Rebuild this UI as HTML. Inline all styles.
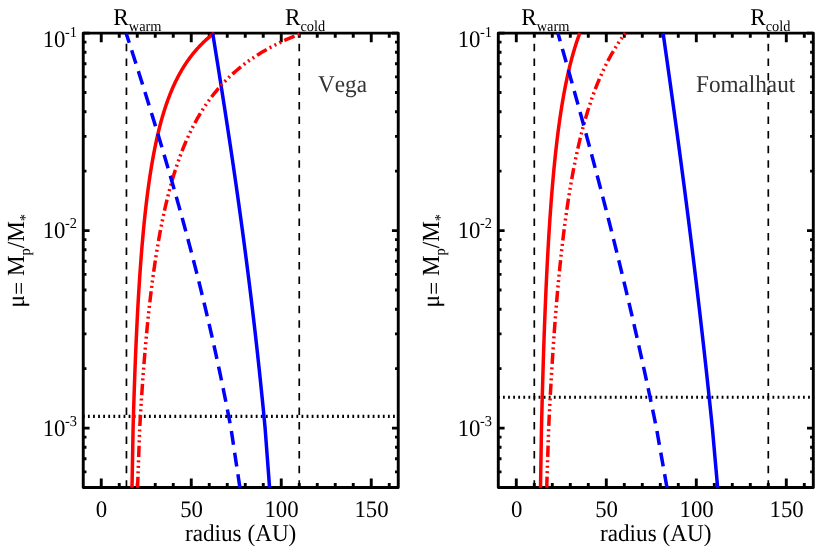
<!DOCTYPE html>
<html><head><meta charset="utf-8"><title>chart</title>
<style>
html,body{margin:0;padding:0;background:#fff;}
svg{display:block;will-change:transform}
text{font-family:"Liberation Serif",serif;font-size:23.2px;fill:#000;font-kerning:none;text-rendering:geometricPrecision}
.s{font-size:14.4px}
</style></head>
<body>
<svg width="830" height="554" viewBox="0 0 830 554">
<rect width="830" height="554" fill="#fff"/>
<path d="M101.25,487.55v-9.10M101.25,33.10v9.10M119.25,487.55v-4.60M119.25,33.10v4.60M137.25,487.55v-4.60M137.25,33.10v4.60M155.25,487.55v-4.60M155.25,33.10v4.60M173.25,487.55v-4.60M173.25,33.10v4.60M191.25,487.55v-9.10M191.25,33.10v9.10M209.25,487.55v-4.60M209.25,33.10v4.60M227.25,487.55v-4.60M227.25,33.10v4.60M245.25,487.55v-4.60M245.25,33.10v4.60M263.25,487.55v-4.60M263.25,33.10v4.60M281.25,487.55v-9.10M281.25,33.10v9.10M299.25,487.55v-4.60M299.25,33.10v4.60M317.25,487.55v-4.60M317.25,33.10v4.60M335.25,487.55v-4.60M335.25,33.10v4.60M353.25,487.55v-4.60M353.25,33.10v4.60M371.25,487.55v-9.10M371.25,33.10v9.10M389.25,487.55v-4.60M389.25,33.10v4.60M83.25,33.10h6.30M398.25,33.10h-6.30M83.25,230.60h6.30M398.25,230.60h-6.30M83.25,171.15h3.20M398.25,171.15h-3.20M83.25,136.37h3.20M398.25,136.37h-3.20M83.25,111.69h3.20M398.25,111.69h-3.20M83.25,92.55h3.20M398.25,92.55h-3.20M83.25,76.92h3.20M398.25,76.92h-3.20M83.25,63.69h3.20M398.25,63.69h-3.20M83.25,52.24h3.20M398.25,52.24h-3.20M83.25,42.14h3.20M398.25,42.14h-3.20M83.25,428.10h6.30M398.25,428.10h-6.30M83.25,368.65h3.20M398.25,368.65h-3.20M83.25,333.87h3.20M398.25,333.87h-3.20M83.25,309.19h3.20M398.25,309.19h-3.20M83.25,290.05h3.20M398.25,290.05h-3.20M83.25,274.42h3.20M398.25,274.42h-3.20M83.25,261.19h3.20M398.25,261.19h-3.20M83.25,249.74h3.20M398.25,249.74h-3.20M83.25,239.64h3.20M398.25,239.64h-3.20M83.25,487.55h3.20M398.25,487.55h-3.20M83.25,471.92h3.20M398.25,471.92h-3.20M83.25,458.69h3.20M398.25,458.69h-3.20M83.25,447.24h3.20M398.25,447.24h-3.20M83.25,437.14h3.20M398.25,437.14h-3.20" stroke="#000" stroke-width="2.9" fill="none"/>
<rect x="83.25" y="33.10" width="315.00" height="454.45" fill="none" stroke="#000" stroke-width="2.9" stroke-linejoin="round"/>
<clipPath id="cVega"><rect x="83.25" y="31.70" width="315.00" height="456.05"/></clipPath>
<g clip-path="url(#cVega)" fill="none">
<line x1="126.45" y1="33.10" x2="126.45" y2="487.55" stroke="#000" stroke-width="1.7" stroke-dasharray="7.5 7.045" stroke-dashoffset="3.8"/>
<line x1="299.25" y1="33.10" x2="299.25" y2="487.55" stroke="#000" stroke-width="1.7" stroke-dasharray="7.5 7.045" stroke-dashoffset="3.8"/>
<line x1="83.25" y1="416.45" x2="398.25" y2="416.45" stroke="#000" stroke-width="3.2" stroke-dasharray="1.8 3.2845" stroke-dashoffset="-4.7"/>
<path d="M214.21,33.10 L212.52,34.42 L210.88,35.73 L209.30,37.05 L207.76,38.37 L206.28,39.68 L204.84,41.00 L203.45,42.32 L202.10,43.63 L200.80,44.95 L199.53,46.27 L198.30,47.58 L197.10,48.90 L195.94,50.22 L194.81,51.53 L193.71,52.85 L192.64,54.17 L191.61,55.48 L190.59,56.80 L189.61,58.12 L188.65,59.43 L187.72,60.75 L186.81,62.07 L185.92,63.38 L185.05,64.70 L184.21,66.02 L183.39,67.33 L182.58,68.65 L181.80,69.97 L181.03,71.28 L180.28,72.60 L179.55,73.92 L178.83,75.23 L178.13,76.55 L177.45,77.87 L176.78,79.18 L176.13,80.50 L175.49,81.82 L174.86,83.13 L174.25,84.45 L173.64,85.77 L173.06,87.08 L172.48,88.40 L171.91,89.72 L171.36,91.03 L170.82,92.35 L170.29,93.67 L169.77,94.98 L169.25,96.30 L168.75,97.62 L168.26,98.93 L167.78,100.25 L167.30,101.57 L166.84,102.88 L166.38,104.20 L165.93,105.52 L165.49,106.83 L165.06,108.15 L164.63,109.47 L164.22,110.78 L163.81,112.10 L163.40,113.42 L163.01,114.73 L162.62,116.05 L162.23,117.37 L161.86,118.68 L161.49,120.00 L161.12,121.32 L160.76,122.63 L160.41,123.95 L160.06,125.27 L159.72,126.58 L159.39,127.90 L159.06,129.22 L158.73,130.53 L158.41,131.85 L158.10,133.17 L157.78,134.48 L157.48,135.80 L157.18,137.12 L156.88,138.43 L156.59,139.75 L156.30,141.07 L156.02,142.38 L155.74,143.70 L155.46,145.02 L155.19,146.33 L154.92,147.65 L154.66,148.97 L154.40,150.28 L154.14,151.60 L153.89,152.92 L153.64,154.23 L153.39,155.55 L153.15,156.87 L152.91,158.18 L152.67,159.50 L152.44,160.82 L152.21,162.13 L151.98,163.45 L151.76,164.77 L151.54,166.08 L151.32,167.40 L151.10,168.72 L150.89,170.03 L150.68,171.35 L150.47,172.67 L150.27,173.98 L150.07,175.30 L149.87,176.62 L149.67,177.93 L149.48,179.25 L149.29,180.57 L149.10,181.88 L148.91,183.20 L148.72,184.52 L148.54,185.83 L148.36,187.15 L148.18,188.47 L148.00,189.78 L147.83,191.10 L147.66,192.42 L147.49,193.73 L147.32,195.05 L147.15,196.37 L146.99,197.68 L146.83,199.00 L146.66,200.32 L146.51,201.63 L146.35,202.95 L146.19,204.27 L146.04,205.58 L145.89,206.90 L145.74,208.22 L145.59,209.53 L145.44,210.85 L145.30,212.17 L145.15,213.48 L145.01,214.80 L144.87,216.12 L144.73,217.43 L144.59,218.75 L144.46,220.07 L144.32,221.38 L144.19,222.70 L144.06,224.02 L143.93,225.33 L143.80,226.65 L143.67,227.97 L143.54,229.28 L143.42,230.60 L143.30,231.92 L143.17,233.23 L143.05,234.55 L142.93,235.87 L142.81,237.18 L142.69,238.50 L142.58,239.82 L142.46,241.13 L142.35,242.45 L142.23,243.77 L142.12,245.08 L142.01,246.40 L141.90,247.72 L141.79,249.03 L141.69,250.35 L141.58,251.67 L141.47,252.98 L141.37,254.30 L141.26,255.62 L141.16,256.93 L141.06,258.25 L140.96,259.57 L140.86,260.88 L140.76,262.20 L140.66,263.52 L140.57,264.83 L140.47,266.15 L140.37,267.47 L140.28,268.78 L140.19,270.10 L140.09,271.42 L140.00,272.73 L139.91,274.05 L139.82,275.37 L139.73,276.68 L139.64,278.00 L139.56,279.32 L139.47,280.63 L139.38,281.95 L139.30,283.27 L139.21,284.58 L139.13,285.90 L139.04,287.22 L138.96,288.53 L138.88,289.85 L138.80,291.17 L138.72,292.48 L138.64,293.80 L138.56,295.12 L138.48,296.43 L138.40,297.75 L138.33,299.07 L138.25,300.38 L138.18,301.70 L138.10,303.02 L138.03,304.33 L137.95,305.65 L137.88,306.97 L137.81,308.28 L137.73,309.60 L137.66,310.92 L137.59,312.23 L137.52,313.55 L137.45,314.87 L137.38,316.18 L137.32,317.50 L137.25,318.82 L137.18,320.13 L137.11,321.45 L137.05,322.77 L136.98,324.08 L136.92,325.40 L136.85,326.72 L136.79,328.03 L136.72,329.35 L136.66,330.67 L136.60,331.98 L136.54,333.30 L136.47,334.62 L136.41,335.93 L136.35,337.25 L136.29,338.57 L136.23,339.88 L136.17,341.20 L136.11,342.52 L136.05,343.83 L136.00,345.15 L135.94,346.47 L135.88,347.78 L135.83,349.10 L135.77,350.42 L135.71,351.73 L135.66,353.05 L135.60,354.37 L135.55,355.68 L135.49,357.00 L135.44,358.32 L135.39,359.63 L135.33,360.95 L135.28,362.27 L135.23,363.58 L135.18,364.90 L135.13,366.22 L135.08,367.53 L135.03,368.85 L134.98,370.17 L134.93,371.48 L134.88,372.80 L134.83,374.12 L134.78,375.43 L134.73,376.75 L134.68,378.07 L134.63,379.38 L134.59,380.70 L134.54,382.02 L134.49,383.33 L134.45,384.65 L134.40,385.97 L134.35,387.28 L134.31,388.60 L134.26,389.92 L134.22,391.23 L134.18,392.55 L134.13,393.87 L134.09,395.18 L134.04,396.50 L134.00,397.82 L133.96,399.13 L133.92,400.45 L133.87,401.77 L133.83,403.08 L133.79,404.40 L133.75,405.72 L133.71,407.03 L133.67,408.35 L133.63,409.67 L133.58,410.98 L133.54,412.30 L133.51,413.62 L133.47,414.93 L133.43,416.25 L133.39,417.57 L133.35,418.88 L133.31,420.20 L133.27,421.52 L133.23,422.83 L133.20,424.15 L133.16,425.47 L133.12,426.78 L133.09,428.10 L129.50,625.60" stroke="#ff0000" stroke-width="3.5"/>
<path d="M212.68,33.10 L212.89,34.42 L213.11,35.73 L213.32,37.05 L213.53,38.37 L213.75,39.68 L213.96,41.00 L214.17,42.32 L214.38,43.63 L214.60,44.95 L214.81,46.27 L215.02,47.58 L215.23,48.90 L215.45,50.22 L215.66,51.53 L215.87,52.85 L216.08,54.17 L216.29,55.48 L216.50,56.80 L216.72,58.12 L216.93,59.43 L217.14,60.75 L217.35,62.07 L217.56,63.38 L217.77,64.70 L217.98,66.02 L218.19,67.33 L218.40,68.65 L218.61,69.97 L218.82,71.28 L219.03,72.60 L219.24,73.92 L219.45,75.23 L219.65,76.55 L219.86,77.87 L220.07,79.18 L220.28,80.50 L220.49,81.82 L220.70,83.13 L220.90,84.45 L221.11,85.77 L221.32,87.08 L221.53,88.40 L221.73,89.72 L221.94,91.03 L222.15,92.35 L222.35,93.67 L222.56,94.98 L222.76,96.30 L222.97,97.62 L223.18,98.93 L223.38,100.25 L223.59,101.57 L223.79,102.88 L224.00,104.20 L224.20,105.52 L224.41,106.83 L224.61,108.15 L224.81,109.47 L225.02,110.78 L225.22,112.10 L225.42,113.42 L225.63,114.73 L225.83,116.05 L226.03,117.37 L226.23,118.68 L226.44,120.00 L226.64,121.32 L226.84,122.63 L227.04,123.95 L227.24,125.27 L227.44,126.58 L227.64,127.90 L227.84,129.22 L228.04,130.53 L228.24,131.85 L228.44,133.17 L228.64,134.48 L228.84,135.80 L229.04,137.12 L229.24,138.43 L229.44,139.75 L229.64,141.07 L229.83,142.38 L230.03,143.70 L230.23,145.02 L230.43,146.33 L230.62,147.65 L230.82,148.97 L231.01,150.28 L231.21,151.60 L231.41,152.92 L231.60,154.23 L231.80,155.55 L231.99,156.87 L232.19,158.18 L232.38,159.50 L232.58,160.82 L232.77,162.13 L232.96,163.45 L233.16,164.77 L233.35,166.08 L233.54,167.40 L233.73,168.72 L233.93,170.03 L234.12,171.35 L234.31,172.67 L234.50,173.98 L234.69,175.30 L234.88,176.62 L235.07,177.93 L235.26,179.25 L235.45,180.57 L235.64,181.88 L235.83,183.20 L236.02,184.52 L236.21,185.83 L236.40,187.15 L236.58,188.47 L236.77,189.78 L236.96,191.10 L237.15,192.42 L237.33,193.73 L237.52,195.05 L237.71,196.37 L237.89,197.68 L238.08,199.00 L238.26,200.32 L238.45,201.63 L238.63,202.95 L238.82,204.27 L239.00,205.58 L239.18,206.90 L239.37,208.22 L239.55,209.53 L239.73,210.85 L239.92,212.17 L240.10,213.48 L240.28,214.80 L240.46,216.12 L240.64,217.43 L240.82,218.75 L241.00,220.07 L241.18,221.38 L241.36,222.70 L241.54,224.02 L241.72,225.33 L241.90,226.65 L242.08,227.97 L242.26,229.28 L242.44,230.60 L242.61,231.92 L242.79,233.23 L242.97,234.55 L243.14,235.87 L243.32,237.18 L243.50,238.50 L243.67,239.82 L243.85,241.13 L244.02,242.45 L244.20,243.77 L244.37,245.08 L244.54,246.40 L244.72,247.72 L244.89,249.03 L245.06,250.35 L245.24,251.67 L245.41,252.98 L245.58,254.30 L245.75,255.62 L245.92,256.93 L246.09,258.25 L246.26,259.57 L246.43,260.88 L246.60,262.20 L246.77,263.52 L246.94,264.83 L247.11,266.15 L247.28,267.47 L247.45,268.78 L247.61,270.10 L247.78,271.42 L247.95,272.73 L248.11,274.05 L248.28,275.37 L248.45,276.68 L248.61,278.00 L248.78,279.32 L248.94,280.63 L249.11,281.95 L249.27,283.27 L249.43,284.58 L249.60,285.90 L249.76,287.22 L249.92,288.53 L250.09,289.85 L250.25,291.17 L250.41,292.48 L250.57,293.80 L250.73,295.12 L250.89,296.43 L251.05,297.75 L251.21,299.07 L251.37,300.38 L251.53,301.70 L251.69,303.02 L251.85,304.33 L252.00,305.65 L252.16,306.97 L252.32,308.28 L252.48,309.60 L252.63,310.92 L252.79,312.23 L252.94,313.55 L253.10,314.87 L253.25,316.18 L253.41,317.50 L253.56,318.82 L253.72,320.13 L253.87,321.45 L254.02,322.77 L254.18,324.08 L254.33,325.40 L254.48,326.72 L254.63,328.03 L254.79,329.35 L254.94,330.67 L255.09,331.98 L255.24,333.30 L255.39,334.62 L255.54,335.93 L255.69,337.25 L255.84,338.57 L255.98,339.88 L256.13,341.20 L256.28,342.52 L256.43,343.83 L256.57,345.15 L256.72,346.47 L256.87,347.78 L257.01,349.10 L257.16,350.42 L257.30,351.73 L257.45,353.05 L257.59,354.37 L257.74,355.68 L257.88,357.00 L258.02,358.32 L258.17,359.63 L258.31,360.95 L258.45,362.27 L258.59,363.58 L258.73,364.90 L258.88,366.22 L259.02,367.53 L259.16,368.85 L259.30,370.17 L259.44,371.48 L259.58,372.80 L259.72,374.12 L259.85,375.43 L259.99,376.75 L260.13,378.07 L260.27,379.38 L260.40,380.70 L260.54,382.02 L260.68,383.33 L260.81,384.65 L260.95,385.97 L261.08,387.28 L261.22,388.60 L261.35,389.92 L261.49,391.23 L261.62,392.55 L261.76,393.87 L261.89,395.18 L262.02,396.50 L262.15,397.82 L262.29,399.13 L262.42,400.45 L262.55,401.77 L262.68,403.08 L262.81,404.40 L262.94,405.72 L263.07,407.03 L263.20,408.35 L263.33,409.67 L263.46,410.98 L263.59,412.30 L263.71,413.62 L263.84,414.93 L263.97,416.25 L264.10,417.57 L264.22,418.88 L264.35,420.20 L264.48,421.52 L264.60,422.83 L264.73,424.15 L264.85,425.47 L264.98,426.78 L265.10,428.10 L279.96,625.60" stroke="#0000ff" stroke-width="3.5"/>
<path d="M301.98,33.10 L298.59,34.42 L295.31,35.73 L292.14,37.05 L289.08,38.37 L286.11,39.68 L283.24,41.00 L280.46,42.32 L277.76,43.63 L275.14,44.95 L272.60,46.27 L270.14,47.58 L267.75,48.90 L265.43,50.22 L263.17,51.53 L260.97,52.85 L258.84,54.17 L256.76,55.48 L254.74,56.80 L252.77,58.12 L250.85,59.43 L248.98,60.75 L247.16,62.07 L245.39,63.38 L243.66,64.70 L241.97,66.02 L240.32,67.33 L238.71,68.65 L237.14,69.97 L235.61,71.28 L234.11,72.60 L232.65,73.92 L231.22,75.23 L229.82,76.55 L228.45,77.87 L227.11,79.18 L225.80,80.50 L224.52,81.82 L223.27,83.13 L222.04,84.45 L220.84,85.77 L219.66,87.08 L218.51,88.40 L217.38,89.72 L216.27,91.03 L215.19,92.35 L214.12,93.67 L213.08,94.98 L212.06,96.30 L211.05,97.62 L210.07,98.93 L209.10,100.25 L208.15,101.57 L207.22,102.88 L206.31,104.20 L205.41,105.52 L204.53,106.83 L203.67,108.15 L202.82,109.47 L201.98,110.78 L201.16,112.10 L200.36,113.42 L199.56,114.73 L198.78,116.05 L198.02,117.37 L197.26,118.68 L196.52,120.00 L195.80,121.32 L195.08,122.63 L194.37,123.95 L193.68,125.27 L193.00,126.58 L192.32,127.90 L191.66,129.22 L191.01,130.53 L190.37,131.85 L189.74,133.17 L189.12,134.48 L188.51,135.80 L187.90,137.12 L187.31,138.43 L186.73,139.75 L186.15,141.07 L185.58,142.38 L185.02,143.70 L184.47,145.02 L183.93,146.33 L183.39,147.65 L182.86,148.97 L182.34,150.28 L181.83,151.60 L181.32,152.92 L180.82,154.23 L180.33,155.55 L179.85,156.87 L179.37,158.18 L178.89,159.50 L178.43,160.82 L177.97,162.13 L177.51,163.45 L177.07,164.77 L176.62,166.08 L176.19,167.40 L175.76,168.72 L175.33,170.03 L174.91,171.35 L174.50,172.67 L174.09,173.98 L173.69,175.30 L173.29,176.62 L172.89,177.93 L172.50,179.25 L172.12,180.57 L171.74,181.88 L171.37,183.20 L171.00,184.52 L170.63,185.83 L170.27,187.15 L169.91,188.47 L169.56,189.78 L169.21,191.10 L168.86,192.42 L168.52,193.73 L168.19,195.05 L167.86,196.37 L167.53,197.68 L167.20,199.00 L166.88,200.32 L166.56,201.63 L166.25,202.95 L165.94,204.27 L165.63,205.58 L165.33,206.90 L165.03,208.22 L164.73,209.53 L164.44,210.85 L164.14,212.17 L163.86,213.48 L163.57,214.80 L163.29,216.12 L163.01,217.43 L162.74,218.75 L162.47,220.07 L162.20,221.38 L161.93,222.70 L161.67,224.02 L161.41,225.33 L161.15,226.65 L160.89,227.97 L160.64,229.28 L160.39,230.60 L160.14,231.92 L159.89,233.23 L159.65,234.55 L159.41,235.87 L159.17,237.18 L158.94,238.50 L158.71,239.82 L158.47,241.13 L158.25,242.45 L158.02,243.77 L157.80,245.08 L157.57,246.40 L157.35,247.72 L157.14,249.03 L156.92,250.35 L156.71,251.67 L156.50,252.98 L156.29,254.30 L156.08,255.62 L155.87,256.93 L155.67,258.25 L155.47,259.57 L155.27,260.88 L155.07,262.20 L154.88,263.52 L154.68,264.83 L154.49,266.15 L154.30,267.47 L154.11,268.78 L153.92,270.10 L153.74,271.42 L153.55,272.73 L153.37,274.05 L153.19,275.37 L153.01,276.68 L152.84,278.00 L152.66,279.32 L152.49,280.63 L152.31,281.95 L152.14,283.27 L151.97,284.58 L151.81,285.90 L151.64,287.22 L151.47,288.53 L151.31,289.85 L151.15,291.17 L150.99,292.48 L150.83,293.80 L150.67,295.12 L150.51,296.43 L150.36,297.75 L150.21,299.07 L150.05,300.38 L149.90,301.70 L149.75,303.02 L149.60,304.33 L149.45,305.65 L149.31,306.97 L149.16,308.28 L149.02,309.60 L148.88,310.92 L148.73,312.23 L148.59,313.55 L148.46,314.87 L148.32,316.18 L148.18,317.50 L148.04,318.82 L147.91,320.13 L147.78,321.45 L147.64,322.77 L147.51,324.08 L147.38,325.40 L147.25,326.72 L147.12,328.03 L147.00,329.35 L146.87,330.67 L146.74,331.98 L146.62,333.30 L146.50,334.62 L146.37,335.93 L146.25,337.25 L146.13,338.57 L146.01,339.88 L145.89,341.20 L145.78,342.52 L145.66,343.83 L145.54,345.15 L145.43,346.47 L145.31,347.78 L145.20,349.10 L145.09,350.42 L144.98,351.73 L144.87,353.05 L144.76,354.37 L144.65,355.68 L144.54,357.00 L144.43,358.32 L144.33,359.63 L144.22,360.95 L144.11,362.27 L144.01,363.58 L143.91,364.90 L143.80,366.22 L143.70,367.53 L143.60,368.85 L143.50,370.17 L143.40,371.48 L143.30,372.80 L143.20,374.12 L143.11,375.43 L143.01,376.75 L142.91,378.07 L142.82,379.38 L142.72,380.70 L142.63,382.02 L142.54,383.33 L142.44,384.65 L142.35,385.97 L142.26,387.28 L142.17,388.60 L142.08,389.92 L141.99,391.23 L141.90,392.55 L141.81,393.87 L141.72,395.18 L141.64,396.50 L141.55,397.82 L141.47,399.13 L141.38,400.45 L141.30,401.77 L141.21,403.08 L141.13,404.40 L141.05,405.72 L140.96,407.03 L140.88,408.35 L140.80,409.67 L140.72,410.98 L140.64,412.30 L140.56,413.62 L140.48,414.93 L140.40,416.25 L140.32,417.57 L140.25,418.88 L140.17,420.20 L140.09,421.52 L140.02,422.83 L139.94,424.15 L139.87,425.47 L139.79,426.78 L139.72,428.10 L132.55,625.60" stroke="#ff0000" stroke-width="3.5" stroke-dasharray="11.2 3.45 2 3.45 2 3.45 2 3.45" stroke-dashoffset="23.00"/>
<path d="M126.11,33.10 L126.53,34.42 L126.96,35.73 L127.39,37.05 L127.81,38.37 L128.24,39.68 L128.67,41.00 L129.09,42.32 L129.52,43.63 L129.94,44.95 L130.37,46.27 L130.79,47.58 L131.22,48.90 L131.64,50.22 L132.07,51.53 L132.49,52.85 L132.91,54.17 L133.34,55.48 L133.76,56.80 L134.18,58.12 L134.60,59.43 L135.02,60.75 L135.45,62.07 L135.87,63.38 L136.29,64.70 L136.71,66.02 L137.13,67.33 L137.55,68.65 L137.97,69.97 L138.39,71.28 L138.80,72.60 L139.22,73.92 L139.64,75.23 L140.06,76.55 L140.48,77.87 L140.89,79.18 L141.31,80.50 L141.73,81.82 L142.14,83.13 L142.56,84.45 L142.97,85.77 L143.39,87.08 L143.80,88.40 L144.22,89.72 L144.63,91.03 L145.04,92.35 L145.46,93.67 L145.87,94.98 L146.28,96.30 L146.69,97.62 L147.10,98.93 L147.51,100.25 L147.92,101.57 L148.33,102.88 L148.74,104.20 L149.15,105.52 L149.56,106.83 L149.97,108.15 L150.38,109.47 L150.78,110.78 L151.19,112.10 L151.60,113.42 L152.00,114.73 L152.41,116.05 L152.81,117.37 L153.22,118.68 L153.62,120.00 L154.02,121.32 L154.43,122.63 L154.83,123.95 L155.23,125.27 L155.63,126.58 L156.04,127.90 L156.44,129.22 L156.84,130.53 L157.24,131.85 L157.64,133.17 L158.03,134.48 L158.43,135.80 L158.83,137.12 L159.23,138.43 L159.62,139.75 L160.02,141.07 L160.42,142.38 L160.81,143.70 L161.21,145.02 L161.60,146.33 L161.99,147.65 L162.39,148.97 L162.78,150.28 L163.17,151.60 L163.56,152.92 L163.95,154.23 L164.34,155.55 L164.73,156.87 L165.12,158.18 L165.51,159.50 L165.90,160.82 L166.29,162.13 L166.67,163.45 L167.06,164.77 L167.45,166.08 L167.83,167.40 L168.22,168.72 L168.60,170.03 L168.99,171.35 L169.37,172.67 L169.75,173.98 L170.13,175.30 L170.51,176.62 L170.90,177.93 L171.28,179.25 L171.65,180.57 L172.03,181.88 L172.41,183.20 L172.79,184.52 L173.17,185.83 L173.54,187.15 L173.92,188.47 L174.30,189.78 L174.67,191.10 L175.04,192.42 L175.42,193.73 L175.79,195.05 L176.16,196.37 L176.54,197.68 L176.91,199.00 L177.28,200.32 L177.65,201.63 L178.02,202.95 L178.38,204.27 L178.75,205.58 L179.12,206.90 L179.49,208.22 L179.85,209.53 L180.22,210.85 L180.58,212.17 L180.95,213.48 L181.31,214.80 L181.67,216.12 L182.04,217.43 L182.40,218.75 L182.76,220.07 L183.12,221.38 L183.48,222.70 L183.84,224.02 L184.20,225.33 L184.55,226.65 L184.91,227.97 L185.27,229.28 L185.62,230.60 L185.98,231.92 L186.33,233.23 L186.69,234.55 L187.04,235.87 L187.39,237.18 L187.74,238.50 L188.09,239.82 L188.44,241.13 L188.79,242.45 L189.14,243.77 L189.49,245.08 L189.84,246.40 L190.19,247.72 L190.53,249.03 L190.88,250.35 L191.22,251.67 L191.57,252.98 L191.91,254.30 L192.25,255.62 L192.59,256.93 L192.94,258.25 L193.28,259.57 L193.62,260.88 L193.96,262.20 L194.29,263.52 L194.63,264.83 L194.97,266.15 L195.31,267.47 L195.64,268.78 L195.98,270.10 L196.31,271.42 L196.65,272.73 L196.98,274.05 L197.31,275.37 L197.64,276.68 L197.97,278.00 L198.30,279.32 L198.63,280.63 L198.96,281.95 L199.29,283.27 L199.62,284.58 L199.94,285.90 L200.27,287.22 L200.60,288.53 L200.92,289.85 L201.24,291.17 L201.57,292.48 L201.89,293.80 L202.21,295.12 L202.53,296.43 L202.85,297.75 L203.17,299.07 L203.49,300.38 L203.81,301.70 L204.13,303.02 L204.44,304.33 L204.76,305.65 L205.07,306.97 L205.39,308.28 L205.70,309.60 L206.02,310.92 L206.33,312.23 L206.64,313.55 L206.95,314.87 L207.26,316.18 L207.57,317.50 L207.88,318.82 L208.19,320.13 L208.49,321.45 L208.80,322.77 L209.11,324.08 L209.41,325.40 L209.71,326.72 L210.02,328.03 L210.32,329.35 L210.62,330.67 L210.92,331.98 L211.22,333.30 L211.52,334.62 L211.82,335.93 L212.12,337.25 L212.42,338.57 L212.72,339.88 L213.01,341.20 L213.31,342.52 L213.60,343.83 L213.90,345.15 L214.19,346.47 L214.48,347.78 L214.78,349.10 L215.07,350.42 L215.36,351.73 L215.65,353.05 L215.94,354.37 L216.22,355.68 L216.51,357.00 L216.80,358.32 L217.08,359.63 L217.37,360.95 L217.65,362.27 L217.94,363.58 L218.22,364.90 L218.50,366.22 L218.78,367.53 L219.06,368.85 L219.34,370.17 L219.62,371.48 L219.90,372.80 L220.18,374.12 L220.46,375.43 L220.73,376.75 L221.01,378.07 L221.29,379.38 L221.56,380.70 L221.83,382.02 L222.11,383.33 L222.38,384.65 L222.65,385.97 L222.92,387.28 L223.19,388.60 L223.46,389.92 L223.73,391.23 L223.99,392.55 L224.26,393.87 L224.53,395.18 L224.79,396.50 L225.06,397.82 L225.32,399.13 L225.59,400.45 L225.85,401.77 L226.11,403.08 L226.37,404.40 L226.63,405.72 L226.89,407.03 L227.15,408.35 L227.41,409.67 L227.67,410.98 L227.92,412.30 L228.18,413.62 L228.43,414.93 L228.69,416.25 L228.94,417.57 L229.20,418.88 L229.45,420.20 L229.70,421.52 L229.95,422.83 L230.20,424.15 L230.45,425.47 L230.70,426.78 L230.95,428.10 L260.67,625.60" stroke="#0000ff" stroke-width="3.5" stroke-dasharray="14 7.88" stroke-dashoffset="3.80"/>
</g>
<text transform="translate(101.55,516.90) scale(1,1.045)" text-anchor="middle" style="font-size:22.8px">0</text>
<text transform="translate(191.55,516.90) scale(1,1.045)" text-anchor="middle" style="font-size:22.8px">50</text>
<text transform="translate(281.55,516.90) scale(1,1.045)" text-anchor="middle" style="font-size:22.8px">100</text>
<text transform="translate(371.55,516.90) scale(1,1.045)" text-anchor="middle" style="font-size:22.8px">150</text>
<text transform="translate(42.65,46.90) scale(1,1.045)" style="font-size:22.8px">10<tspan class="s" dx="-0.5" dy="-9.67">-1</tspan></text>
<text transform="translate(42.65,238.30) scale(1,1.045)" style="font-size:22.8px">10<tspan class="s" dx="-0.5" dy="-9.67">-2</tspan></text>
<text transform="translate(42.65,435.80) scale(1,1.045)" style="font-size:22.8px">10<tspan class="s" dx="-0.5" dy="-9.67">-3</tspan></text>
<text transform="translate(240.65,541.00) scale(1,1.04)" text-anchor="middle">radius (AU)</text>
<text transform="translate(24.25,307.40) rotate(-90) scale(1,1.06)">μ<tspan dy="2.17">=</tspan><tspan dy="-2.17"> M</tspan><tspan class="s" dy="5.00">p</tspan><tspan dy="-5.00">/M</tspan><tspan class="s" dy="5.00">*</tspan></text>
<text transform="translate(318.00,92.40) scale(1,1.04)" style="fill:#333">Vega</text>
<text transform="translate(113.30,24.50) scale(1,1.04)">R<tspan class="s" dy="6.15">warm</tspan></text>
<text transform="translate(285.00,24.50) scale(1,1.04)">R<tspan class="s" dy="6.15">cold</tspan></text>
<path d="M516.30,487.55v-9.10M516.30,33.10v9.10M534.30,487.55v-4.60M534.30,33.10v4.60M552.30,487.55v-4.60M552.30,33.10v4.60M570.30,487.55v-4.60M570.30,33.10v4.60M588.30,487.55v-4.60M588.30,33.10v4.60M606.30,487.55v-9.10M606.30,33.10v9.10M624.30,487.55v-4.60M624.30,33.10v4.60M642.30,487.55v-4.60M642.30,33.10v4.60M660.30,487.55v-4.60M660.30,33.10v4.60M678.30,487.55v-4.60M678.30,33.10v4.60M696.30,487.55v-9.10M696.30,33.10v9.10M714.30,487.55v-4.60M714.30,33.10v4.60M732.30,487.55v-4.60M732.30,33.10v4.60M750.30,487.55v-4.60M750.30,33.10v4.60M768.30,487.55v-4.60M768.30,33.10v4.60M786.30,487.55v-9.10M786.30,33.10v9.10M804.30,487.55v-4.60M804.30,33.10v4.60M498.30,33.10h6.30M813.30,33.10h-6.30M498.30,230.60h6.30M813.30,230.60h-6.30M498.30,171.15h3.20M813.30,171.15h-3.20M498.30,136.37h3.20M813.30,136.37h-3.20M498.30,111.69h3.20M813.30,111.69h-3.20M498.30,92.55h3.20M813.30,92.55h-3.20M498.30,76.92h3.20M813.30,76.92h-3.20M498.30,63.69h3.20M813.30,63.69h-3.20M498.30,52.24h3.20M813.30,52.24h-3.20M498.30,42.14h3.20M813.30,42.14h-3.20M498.30,428.10h6.30M813.30,428.10h-6.30M498.30,368.65h3.20M813.30,368.65h-3.20M498.30,333.87h3.20M813.30,333.87h-3.20M498.30,309.19h3.20M813.30,309.19h-3.20M498.30,290.05h3.20M813.30,290.05h-3.20M498.30,274.42h3.20M813.30,274.42h-3.20M498.30,261.19h3.20M813.30,261.19h-3.20M498.30,249.74h3.20M813.30,249.74h-3.20M498.30,239.64h3.20M813.30,239.64h-3.20M498.30,487.55h3.20M813.30,487.55h-3.20M498.30,471.92h3.20M813.30,471.92h-3.20M498.30,458.69h3.20M813.30,458.69h-3.20M498.30,447.24h3.20M813.30,447.24h-3.20M498.30,437.14h3.20M813.30,437.14h-3.20" stroke="#000" stroke-width="2.9" fill="none"/>
<rect x="498.30" y="33.10" width="315.00" height="454.45" fill="none" stroke="#000" stroke-width="2.9" stroke-linejoin="round"/>
<clipPath id="cFomalhaut"><rect x="498.30" y="31.70" width="315.00" height="456.05"/></clipPath>
<g clip-path="url(#cFomalhaut)" fill="none">
<line x1="534.30" y1="33.10" x2="534.30" y2="487.55" stroke="#000" stroke-width="1.7" stroke-dasharray="7.5 7.045" stroke-dashoffset="3.8"/>
<line x1="768.30" y1="33.10" x2="768.30" y2="487.55" stroke="#000" stroke-width="1.7" stroke-dasharray="7.5 7.045" stroke-dashoffset="3.8"/>
<line x1="498.30" y1="397.25" x2="813.30" y2="397.25" stroke="#000" stroke-width="3.2" stroke-dasharray="1.8 3.2845" stroke-dashoffset="-4.7"/>
<path d="M579.81,33.10 L579.32,34.42 L578.84,35.73 L578.37,37.05 L577.91,38.37 L577.46,39.68 L577.01,41.00 L576.57,42.32 L576.14,43.63 L575.72,44.95 L575.30,46.27 L574.89,47.58 L574.49,48.90 L574.10,50.22 L573.71,51.53 L573.32,52.85 L572.95,54.17 L572.58,55.48 L572.21,56.80 L571.85,58.12 L571.50,59.43 L571.15,60.75 L570.81,62.07 L570.47,63.38 L570.14,64.70 L569.82,66.02 L569.49,67.33 L569.18,68.65 L568.86,69.97 L568.56,71.28 L568.25,72.60 L567.96,73.92 L567.66,75.23 L567.37,76.55 L567.08,77.87 L566.80,79.18 L566.52,80.50 L566.25,81.82 L565.98,83.13 L565.71,84.45 L565.45,85.77 L565.19,87.08 L564.94,88.40 L564.68,89.72 L564.43,91.03 L564.19,92.35 L563.95,93.67 L563.71,94.98 L563.47,96.30 L563.24,97.62 L563.01,98.93 L562.78,100.25 L562.56,101.57 L562.33,102.88 L562.12,104.20 L561.90,105.52 L561.69,106.83 L561.48,108.15 L561.27,109.47 L561.06,110.78 L560.86,112.10 L560.66,113.42 L560.46,114.73 L560.26,116.05 L560.07,117.37 L559.88,118.68 L559.69,120.00 L559.50,121.32 L559.32,122.63 L559.14,123.95 L558.96,125.27 L558.78,126.58 L558.60,127.90 L558.43,129.22 L558.25,130.53 L558.08,131.85 L557.92,133.17 L557.75,134.48 L557.58,135.80 L557.42,137.12 L557.26,138.43 L557.10,139.75 L556.94,141.07 L556.79,142.38 L556.63,143.70 L556.48,145.02 L556.33,146.33 L556.18,147.65 L556.03,148.97 L555.88,150.28 L555.74,151.60 L555.59,152.92 L555.45,154.23 L555.31,155.55 L555.17,156.87 L555.04,158.18 L554.90,159.50 L554.76,160.82 L554.63,162.13 L554.50,163.45 L554.37,164.77 L554.24,166.08 L554.11,167.40 L553.98,168.72 L553.86,170.03 L553.73,171.35 L553.61,172.67 L553.49,173.98 L553.36,175.30 L553.25,176.62 L553.13,177.93 L553.01,179.25 L552.89,180.57 L552.78,181.88 L552.66,183.20 L552.55,184.52 L552.44,185.83 L552.33,187.15 L552.21,188.47 L552.11,189.78 L552.00,191.10 L551.89,192.42 L551.78,193.73 L551.68,195.05 L551.57,196.37 L551.47,197.68 L551.37,199.00 L551.27,200.32 L551.17,201.63 L551.07,202.95 L550.97,204.27 L550.87,205.58 L550.77,206.90 L550.68,208.22 L550.58,209.53 L550.48,210.85 L550.39,212.17 L550.30,213.48 L550.21,214.80 L550.11,216.12 L550.02,217.43 L549.93,218.75 L549.84,220.07 L549.75,221.38 L549.67,222.70 L549.58,224.02 L549.49,225.33 L549.41,226.65 L549.32,227.97 L549.24,229.28 L549.16,230.60 L549.07,231.92 L548.99,233.23 L548.91,234.55 L548.83,235.87 L548.75,237.18 L548.67,238.50 L548.59,239.82 L548.51,241.13 L548.43,242.45 L548.36,243.77 L548.28,245.08 L548.20,246.40 L548.13,247.72 L548.05,249.03 L547.98,250.35 L547.90,251.67 L547.83,252.98 L547.76,254.30 L547.69,255.62 L547.62,256.93 L547.55,258.25 L547.47,259.57 L547.40,260.88 L547.34,262.20 L547.27,263.52 L547.20,264.83 L547.13,266.15 L547.06,267.47 L547.00,268.78 L546.93,270.10 L546.87,271.42 L546.80,272.73 L546.74,274.05 L546.67,275.37 L546.61,276.68 L546.54,278.00 L546.48,279.32 L546.42,280.63 L546.36,281.95 L546.29,283.27 L546.23,284.58 L546.17,285.90 L546.11,287.22 L546.05,288.53 L545.99,289.85 L545.93,291.17 L545.88,292.48 L545.82,293.80 L545.76,295.12 L545.70,296.43 L545.65,297.75 L545.59,299.07 L545.53,300.38 L545.48,301.70 L545.42,303.02 L545.37,304.33 L545.31,305.65 L545.26,306.97 L545.20,308.28 L545.15,309.60 L545.10,310.92 L545.04,312.23 L544.99,313.55 L544.94,314.87 L544.89,316.18 L544.84,317.50 L544.78,318.82 L544.73,320.13 L544.68,321.45 L544.63,322.77 L544.58,324.08 L544.53,325.40 L544.48,326.72 L544.44,328.03 L544.39,329.35 L544.34,330.67 L544.29,331.98 L544.24,333.30 L544.20,334.62 L544.15,335.93 L544.10,337.25 L544.06,338.57 L544.01,339.88 L543.97,341.20 L543.92,342.52 L543.87,343.83 L543.83,345.15 L543.78,346.47 L543.74,347.78 L543.70,349.10 L543.65,350.42 L543.61,351.73 L543.57,353.05 L543.52,354.37 L543.48,355.68 L543.44,357.00 L543.40,358.32 L543.35,359.63 L543.31,360.95 L543.27,362.27 L543.23,363.58 L543.19,364.90 L543.15,366.22 L543.11,367.53 L543.07,368.85 L543.03,370.17 L542.99,371.48 L542.95,372.80 L542.91,374.12 L542.87,375.43 L542.83,376.75 L542.79,378.07 L542.75,379.38 L542.72,380.70 L542.68,382.02 L542.64,383.33 L542.60,384.65 L542.57,385.97 L542.53,387.28 L542.49,388.60 L542.46,389.92 L542.42,391.23 L542.38,392.55 L542.35,393.87 L542.31,395.18 L542.28,396.50 L542.24,397.82 L542.21,399.13 L542.17,400.45 L542.14,401.77 L542.10,403.08 L542.07,404.40 L542.04,405.72 L542.00,407.03 L541.97,408.35 L541.93,409.67 L541.90,410.98 L541.87,412.30 L541.83,413.62 L541.80,414.93 L541.77,416.25 L541.74,417.57 L541.70,418.88 L541.67,420.20 L541.64,421.52 L541.61,422.83 L541.58,424.15 L541.55,425.47 L541.52,426.78 L541.48,428.10 L538.25,625.60" stroke="#ff0000" stroke-width="3.5"/>
<path d="M663.10,33.10 L663.29,34.42 L663.48,35.73 L663.67,37.05 L663.85,38.37 L664.04,39.68 L664.23,41.00 L664.42,42.32 L664.60,43.63 L664.79,44.95 L664.98,46.27 L665.17,47.58 L665.35,48.90 L665.54,50.22 L665.73,51.53 L665.91,52.85 L666.10,54.17 L666.29,55.48 L666.47,56.80 L666.66,58.12 L666.85,59.43 L667.03,60.75 L667.22,62.07 L667.40,63.38 L667.59,64.70 L667.77,66.02 L667.96,67.33 L668.14,68.65 L668.33,69.97 L668.52,71.28 L668.70,72.60 L668.89,73.92 L669.07,75.23 L669.25,76.55 L669.44,77.87 L669.62,79.18 L669.81,80.50 L669.99,81.82 L670.18,83.13 L670.36,84.45 L670.54,85.77 L670.73,87.08 L670.91,88.40 L671.09,89.72 L671.28,91.03 L671.46,92.35 L671.64,93.67 L671.83,94.98 L672.01,96.30 L672.19,97.62 L672.37,98.93 L672.56,100.25 L672.74,101.57 L672.92,102.88 L673.10,104.20 L673.28,105.52 L673.47,106.83 L673.65,108.15 L673.83,109.47 L674.01,110.78 L674.19,112.10 L674.37,113.42 L674.55,114.73 L674.73,116.05 L674.91,117.37 L675.09,118.68 L675.27,120.00 L675.45,121.32 L675.63,122.63 L675.81,123.95 L675.99,125.27 L676.17,126.58 L676.35,127.90 L676.53,129.22 L676.71,130.53 L676.89,131.85 L677.07,133.17 L677.25,134.48 L677.43,135.80 L677.60,137.12 L677.78,138.43 L677.96,139.75 L678.14,141.07 L678.32,142.38 L678.49,143.70 L678.67,145.02 L678.85,146.33 L679.03,147.65 L679.20,148.97 L679.38,150.28 L679.56,151.60 L679.73,152.92 L679.91,154.23 L680.08,155.55 L680.26,156.87 L680.44,158.18 L680.61,159.50 L680.79,160.82 L680.96,162.13 L681.14,163.45 L681.31,164.77 L681.49,166.08 L681.66,167.40 L681.84,168.72 L682.01,170.03 L682.18,171.35 L682.36,172.67 L682.53,173.98 L682.71,175.30 L682.88,176.62 L683.05,177.93 L683.23,179.25 L683.40,180.57 L683.57,181.88 L683.74,183.20 L683.92,184.52 L684.09,185.83 L684.26,187.15 L684.43,188.47 L684.60,189.78 L684.78,191.10 L684.95,192.42 L685.12,193.73 L685.29,195.05 L685.46,196.37 L685.63,197.68 L685.80,199.00 L685.97,200.32 L686.14,201.63 L686.31,202.95 L686.48,204.27 L686.65,205.58 L686.82,206.90 L686.99,208.22 L687.16,209.53 L687.33,210.85 L687.50,212.17 L687.66,213.48 L687.83,214.80 L688.00,216.12 L688.17,217.43 L688.34,218.75 L688.50,220.07 L688.67,221.38 L688.84,222.70 L689.01,224.02 L689.17,225.33 L689.34,226.65 L689.50,227.97 L689.67,229.28 L689.84,230.60 L690.00,231.92 L690.17,233.23 L690.33,234.55 L690.50,235.87 L690.66,237.18 L690.83,238.50 L690.99,239.82 L691.16,241.13 L691.32,242.45 L691.49,243.77 L691.65,245.08 L691.81,246.40 L691.98,247.72 L692.14,249.03 L692.30,250.35 L692.47,251.67 L692.63,252.98 L692.79,254.30 L692.95,255.62 L693.12,256.93 L693.28,258.25 L693.44,259.57 L693.60,260.88 L693.76,262.20 L693.92,263.52 L694.08,264.83 L694.24,266.15 L694.40,267.47 L694.57,268.78 L694.73,270.10 L694.89,271.42 L695.04,272.73 L695.20,274.05 L695.36,275.37 L695.52,276.68 L695.68,278.00 L695.84,279.32 L696.00,280.63 L696.16,281.95 L696.31,283.27 L696.47,284.58 L696.63,285.90 L696.79,287.22 L696.94,288.53 L697.10,289.85 L697.26,291.17 L697.41,292.48 L697.57,293.80 L697.73,295.12 L697.88,296.43 L698.04,297.75 L698.19,299.07 L698.35,300.38 L698.50,301.70 L698.66,303.02 L698.81,304.33 L698.97,305.65 L699.12,306.97 L699.28,308.28 L699.43,309.60 L699.58,310.92 L699.74,312.23 L699.89,313.55 L700.04,314.87 L700.20,316.18 L700.35,317.50 L700.50,318.82 L700.65,320.13 L700.80,321.45 L700.96,322.77 L701.11,324.08 L701.26,325.40 L701.41,326.72 L701.56,328.03 L701.71,329.35 L701.86,330.67 L702.01,331.98 L702.16,333.30 L702.31,334.62 L702.46,335.93 L702.61,337.25 L702.76,338.57 L702.91,339.88 L703.06,341.20 L703.20,342.52 L703.35,343.83 L703.50,345.15 L703.65,346.47 L703.79,347.78 L703.94,349.10 L704.09,350.42 L704.24,351.73 L704.38,353.05 L704.53,354.37 L704.67,355.68 L704.82,357.00 L704.97,358.32 L705.11,359.63 L705.26,360.95 L705.40,362.27 L705.55,363.58 L705.69,364.90 L705.84,366.22 L705.98,367.53 L706.12,368.85 L706.27,370.17 L706.41,371.48 L706.55,372.80 L706.70,374.12 L706.84,375.43 L706.98,376.75 L707.12,378.07 L707.27,379.38 L707.41,380.70 L707.55,382.02 L707.69,383.33 L707.83,384.65 L707.97,385.97 L708.11,387.28 L708.26,388.60 L708.40,389.92 L708.54,391.23 L708.68,392.55 L708.82,393.87 L708.95,395.18 L709.09,396.50 L709.23,397.82 L709.37,399.13 L709.51,400.45 L709.65,401.77 L709.79,403.08 L709.92,404.40 L710.06,405.72 L710.20,407.03 L710.34,408.35 L710.47,409.67 L710.61,410.98 L710.75,412.30 L710.88,413.62 L711.02,414.93 L711.15,416.25 L711.29,417.57 L711.43,418.88 L711.56,420.20 L711.70,421.52 L711.83,422.83 L711.96,424.15 L712.10,425.47 L712.23,426.78 L712.37,428.10 L729.86,625.60" stroke="#0000ff" stroke-width="3.5"/>
<path d="M625.33,33.10 L624.35,34.42 L623.39,35.73 L622.45,37.05 L621.52,38.37 L620.61,39.68 L619.72,41.00 L618.85,42.32 L617.98,43.63 L617.14,44.95 L616.30,46.27 L615.49,47.58 L614.68,48.90 L613.89,50.22 L613.11,51.53 L612.35,52.85 L611.59,54.17 L610.85,55.48 L610.12,56.80 L609.41,58.12 L608.70,59.43 L608.01,60.75 L607.32,62.07 L606.65,63.38 L605.98,64.70 L605.33,66.02 L604.69,67.33 L604.05,68.65 L603.43,69.97 L602.81,71.28 L602.21,72.60 L601.61,73.92 L601.02,75.23 L600.44,76.55 L599.87,77.87 L599.31,79.18 L598.75,80.50 L598.20,81.82 L597.66,83.13 L597.13,84.45 L596.60,85.77 L596.08,87.08 L595.57,88.40 L595.07,89.72 L594.57,91.03 L594.08,92.35 L593.59,93.67 L593.11,94.98 L592.64,96.30 L592.17,97.62 L591.71,98.93 L591.26,100.25 L590.81,101.57 L590.37,102.88 L589.93,104.20 L589.50,105.52 L589.07,106.83 L588.65,108.15 L588.23,109.47 L587.82,110.78 L587.42,112.10 L587.02,113.42 L586.62,114.73 L586.23,116.05 L585.84,117.37 L585.46,118.68 L585.08,120.00 L584.71,121.32 L584.34,122.63 L583.97,123.95 L583.61,125.27 L583.25,126.58 L582.90,127.90 L582.55,129.22 L582.21,130.53 L581.87,131.85 L581.53,133.17 L581.20,134.48 L580.87,135.80 L580.54,137.12 L580.22,138.43 L579.90,139.75 L579.58,141.07 L579.27,142.38 L578.96,143.70 L578.66,145.02 L578.35,146.33 L578.06,147.65 L577.76,148.97 L577.47,150.28 L577.18,151.60 L576.89,152.92 L576.61,154.23 L576.32,155.55 L576.05,156.87 L575.77,158.18 L575.50,159.50 L575.23,160.82 L574.96,162.13 L574.70,163.45 L574.44,164.77 L574.18,166.08 L573.92,167.40 L573.66,168.72 L573.41,170.03 L573.16,171.35 L572.92,172.67 L572.67,173.98 L572.43,175.30 L572.19,176.62 L571.95,177.93 L571.72,179.25 L571.48,180.57 L571.25,181.88 L571.02,183.20 L570.80,184.52 L570.57,185.83 L570.35,187.15 L570.13,188.47 L569.91,189.78 L569.69,191.10 L569.48,192.42 L569.27,193.73 L569.06,195.05 L568.85,196.37 L568.64,197.68 L568.44,199.00 L568.23,200.32 L568.03,201.63 L567.83,202.95 L567.63,204.27 L567.44,205.58 L567.24,206.90 L567.05,208.22 L566.86,209.53 L566.67,210.85 L566.48,212.17 L566.30,213.48 L566.11,214.80 L565.93,216.12 L565.75,217.43 L565.57,218.75 L565.39,220.07 L565.21,221.38 L565.03,222.70 L564.86,224.02 L564.69,225.33 L564.52,226.65 L564.35,227.97 L564.18,229.28 L564.01,230.60 L563.84,231.92 L563.68,233.23 L563.52,234.55 L563.35,235.87 L563.19,237.18 L563.04,238.50 L562.88,239.82 L562.72,241.13 L562.56,242.45 L562.41,243.77 L562.26,245.08 L562.11,246.40 L561.95,247.72 L561.81,249.03 L561.66,250.35 L561.51,251.67 L561.36,252.98 L561.22,254.30 L561.07,255.62 L560.93,256.93 L560.79,258.25 L560.65,259.57 L560.51,260.88 L560.37,262.20 L560.23,263.52 L560.10,264.83 L559.96,266.15 L559.83,267.47 L559.69,268.78 L559.56,270.10 L559.43,271.42 L559.30,272.73 L559.17,274.05 L559.04,275.37 L558.91,276.68 L558.79,278.00 L558.66,279.32 L558.54,280.63 L558.41,281.95 L558.29,283.27 L558.17,284.58 L558.05,285.90 L557.92,287.22 L557.80,288.53 L557.69,289.85 L557.57,291.17 L557.45,292.48 L557.33,293.80 L557.22,295.12 L557.10,296.43 L556.99,297.75 L556.88,299.07 L556.76,300.38 L556.65,301.70 L556.54,303.02 L556.43,304.33 L556.32,305.65 L556.21,306.97 L556.11,308.28 L556.00,309.60 L555.89,310.92 L555.79,312.23 L555.68,313.55 L555.58,314.87 L555.47,316.18 L555.37,317.50 L555.27,318.82 L555.17,320.13 L555.07,321.45 L554.97,322.77 L554.87,324.08 L554.77,325.40 L554.67,326.72 L554.57,328.03 L554.48,329.35 L554.38,330.67 L554.28,331.98 L554.19,333.30 L554.09,334.62 L554.00,335.93 L553.91,337.25 L553.81,338.57 L553.72,339.88 L553.63,341.20 L553.54,342.52 L553.45,343.83 L553.36,345.15 L553.27,346.47 L553.18,347.78 L553.09,349.10 L553.01,350.42 L552.92,351.73 L552.83,353.05 L552.75,354.37 L552.66,355.68 L552.58,357.00 L552.49,358.32 L552.41,359.63 L552.32,360.95 L552.24,362.27 L552.16,363.58 L552.08,364.90 L552.00,366.22 L551.92,367.53 L551.84,368.85 L551.76,370.17 L551.68,371.48 L551.60,372.80 L551.52,374.12 L551.44,375.43 L551.36,376.75 L551.29,378.07 L551.21,379.38 L551.13,380.70 L551.06,382.02 L550.98,383.33 L550.91,384.65 L550.83,385.97 L550.76,387.28 L550.69,388.60 L550.61,389.92 L550.54,391.23 L550.47,392.55 L550.40,393.87 L550.33,395.18 L550.26,396.50 L550.18,397.82 L550.11,399.13 L550.04,400.45 L549.98,401.77 L549.91,403.08 L549.84,404.40 L549.77,405.72 L549.70,407.03 L549.64,408.35 L549.57,409.67 L549.50,410.98 L549.44,412.30 L549.37,413.62 L549.30,414.93 L549.24,416.25 L549.17,417.57 L549.11,418.88 L549.05,420.20 L548.98,421.52 L548.92,422.83 L548.86,424.15 L548.79,425.47 L548.73,426.78 L548.67,428.10 L542.20,625.60" stroke="#ff0000" stroke-width="3.5" stroke-dasharray="11.2 3.45 2 3.45 2 3.45 2 3.45" stroke-dashoffset="9.30"/>
<path d="M557.90,33.10 L558.28,34.42 L558.66,35.73 L559.03,37.05 L559.41,38.37 L559.78,39.68 L560.16,41.00 L560.53,42.32 L560.91,43.63 L561.28,44.95 L561.66,46.27 L562.03,47.58 L562.41,48.90 L562.78,50.22 L563.15,51.53 L563.53,52.85 L563.90,54.17 L564.27,55.48 L564.65,56.80 L565.02,58.12 L565.39,59.43 L565.76,60.75 L566.13,62.07 L566.51,63.38 L566.88,64.70 L567.25,66.02 L567.62,67.33 L567.99,68.65 L568.36,69.97 L568.73,71.28 L569.10,72.60 L569.47,73.92 L569.84,75.23 L570.21,76.55 L570.58,77.87 L570.95,79.18 L571.32,80.50 L571.68,81.82 L572.05,83.13 L572.42,84.45 L572.79,85.77 L573.15,87.08 L573.52,88.40 L573.89,89.72 L574.25,91.03 L574.62,92.35 L574.99,93.67 L575.35,94.98 L575.72,96.30 L576.08,97.62 L576.45,98.93 L576.81,100.25 L577.18,101.57 L577.54,102.88 L577.91,104.20 L578.27,105.52 L578.63,106.83 L578.99,108.15 L579.36,109.47 L579.72,110.78 L580.08,112.10 L580.44,113.42 L580.81,114.73 L581.17,116.05 L581.53,117.37 L581.89,118.68 L582.25,120.00 L582.61,121.32 L582.97,122.63 L583.33,123.95 L583.69,125.27 L584.05,126.58 L584.41,127.90 L584.76,129.22 L585.12,130.53 L585.48,131.85 L585.84,133.17 L586.20,134.48 L586.55,135.80 L586.91,137.12 L587.27,138.43 L587.62,139.75 L587.98,141.07 L588.33,142.38 L588.69,143.70 L589.04,145.02 L589.40,146.33 L589.75,147.65 L590.10,148.97 L590.46,150.28 L590.81,151.60 L591.16,152.92 L591.52,154.23 L591.87,155.55 L592.22,156.87 L592.57,158.18 L592.92,159.50 L593.27,160.82 L593.63,162.13 L593.98,163.45 L594.33,164.77 L594.67,166.08 L595.02,167.40 L595.37,168.72 L595.72,170.03 L596.07,171.35 L596.42,172.67 L596.77,173.98 L597.11,175.30 L597.46,176.62 L597.81,177.93 L598.15,179.25 L598.50,180.57 L598.84,181.88 L599.19,183.20 L599.53,184.52 L599.88,185.83 L600.22,187.15 L600.57,188.47 L600.91,189.78 L601.25,191.10 L601.59,192.42 L601.94,193.73 L602.28,195.05 L602.62,196.37 L602.96,197.68 L603.30,199.00 L603.64,200.32 L603.98,201.63 L604.32,202.95 L604.66,204.27 L605.00,205.58 L605.34,206.90 L605.68,208.22 L606.02,209.53 L606.35,210.85 L606.69,212.17 L607.03,213.48 L607.37,214.80 L607.70,216.12 L608.04,217.43 L608.37,218.75 L608.71,220.07 L609.04,221.38 L609.38,222.70 L609.71,224.02 L610.04,225.33 L610.38,226.65 L610.71,227.97 L611.04,229.28 L611.37,230.60 L611.71,231.92 L612.04,233.23 L612.37,234.55 L612.70,235.87 L613.03,237.18 L613.36,238.50 L613.69,239.82 L614.02,241.13 L614.34,242.45 L614.67,243.77 L615.00,245.08 L615.33,246.40 L615.65,247.72 L615.98,249.03 L616.31,250.35 L616.63,251.67 L616.96,252.98 L617.28,254.30 L617.61,255.62 L617.93,256.93 L618.26,258.25 L618.58,259.57 L618.90,260.88 L619.22,262.20 L619.55,263.52 L619.87,264.83 L620.19,266.15 L620.51,267.47 L620.83,268.78 L621.15,270.10 L621.47,271.42 L621.79,272.73 L622.11,274.05 L622.43,275.37 L622.74,276.68 L623.06,278.00 L623.38,279.32 L623.70,280.63 L624.01,281.95 L624.33,283.27 L624.64,284.58 L624.96,285.90 L625.27,287.22 L625.59,288.53 L625.90,289.85 L626.22,291.17 L626.53,292.48 L626.84,293.80 L627.15,295.12 L627.47,296.43 L627.78,297.75 L628.09,299.07 L628.40,300.38 L628.71,301.70 L629.02,303.02 L629.33,304.33 L629.64,305.65 L629.94,306.97 L630.25,308.28 L630.56,309.60 L630.87,310.92 L631.17,312.23 L631.48,313.55 L631.79,314.87 L632.09,316.18 L632.40,317.50 L632.70,318.82 L633.00,320.13 L633.31,321.45 L633.61,322.77 L633.91,324.08 L634.22,325.40 L634.52,326.72 L634.82,328.03 L635.12,329.35 L635.42,330.67 L635.72,331.98 L636.02,333.30 L636.32,334.62 L636.62,335.93 L636.92,337.25 L637.22,338.57 L637.51,339.88 L637.81,341.20 L638.11,342.52 L638.40,343.83 L638.70,345.15 L638.99,346.47 L639.29,347.78 L639.58,349.10 L639.88,350.42 L640.17,351.73 L640.46,353.05 L640.76,354.37 L641.05,355.68 L641.34,357.00 L641.63,358.32 L641.92,359.63 L642.21,360.95 L642.50,362.27 L642.79,363.58 L643.08,364.90 L643.37,366.22 L643.66,367.53 L643.95,368.85 L644.24,370.17 L644.52,371.48 L644.81,372.80 L645.09,374.12 L645.38,375.43 L645.67,376.75 L645.95,378.07 L646.23,379.38 L646.52,380.70 L646.80,382.02 L647.08,383.33 L647.37,384.65 L647.65,385.97 L647.93,387.28 L648.21,388.60 L648.49,389.92 L648.77,391.23 L649.05,392.55 L649.33,393.87 L649.61,395.18 L649.89,396.50 L650.17,397.82 L650.44,399.13 L650.72,400.45 L651.00,401.77 L651.27,403.08 L651.55,404.40 L651.82,405.72 L652.10,407.03 L652.37,408.35 L652.65,409.67 L652.92,410.98 L653.19,412.30 L653.47,413.62 L653.74,414.93 L654.01,416.25 L654.28,417.57 L654.55,418.88 L654.82,420.20 L655.09,421.52 L655.36,422.83 L655.63,424.15 L655.90,425.47 L656.16,426.78 L656.43,428.10 L691.42,625.60" stroke="#0000ff" stroke-width="3.5" stroke-dasharray="14 7.88" stroke-dashoffset="5.49"/>
</g>
<text transform="translate(516.60,516.90) scale(1,1.045)" text-anchor="middle" style="font-size:22.8px">0</text>
<text transform="translate(606.60,516.90) scale(1,1.045)" text-anchor="middle" style="font-size:22.8px">50</text>
<text transform="translate(696.60,516.90) scale(1,1.045)" text-anchor="middle" style="font-size:22.8px">100</text>
<text transform="translate(786.60,516.90) scale(1,1.045)" text-anchor="middle" style="font-size:22.8px">150</text>
<text transform="translate(457.70,46.90) scale(1,1.045)" style="font-size:22.8px">10<tspan class="s" dx="-0.5" dy="-9.67">-1</tspan></text>
<text transform="translate(457.70,238.30) scale(1,1.045)" style="font-size:22.8px">10<tspan class="s" dx="-0.5" dy="-9.67">-2</tspan></text>
<text transform="translate(457.70,435.80) scale(1,1.045)" style="font-size:22.8px">10<tspan class="s" dx="-0.5" dy="-9.67">-3</tspan></text>
<text transform="translate(655.70,541.00) scale(1,1.04)" text-anchor="middle">radius (AU)</text>
<text transform="translate(439.30,307.40) rotate(-90) scale(1,1.06)">μ<tspan dy="2.17">=</tspan><tspan dy="-2.17"> M</tspan><tspan class="s" dy="5.00">p</tspan><tspan dy="-5.00">/M</tspan><tspan class="s" dy="5.00">*</tspan></text>
<text transform="translate(696.00,92.40) scale(1,1.04)" style="fill:#333">Fomalhaut</text>
<text transform="translate(521.20,24.50) scale(1,1.04)">R<tspan class="s" dy="6.15">warm</tspan></text>
<text transform="translate(750.20,24.50) scale(1,1.04)">R<tspan class="s" dy="6.15">cold</tspan></text>
</svg>
</body></html>
